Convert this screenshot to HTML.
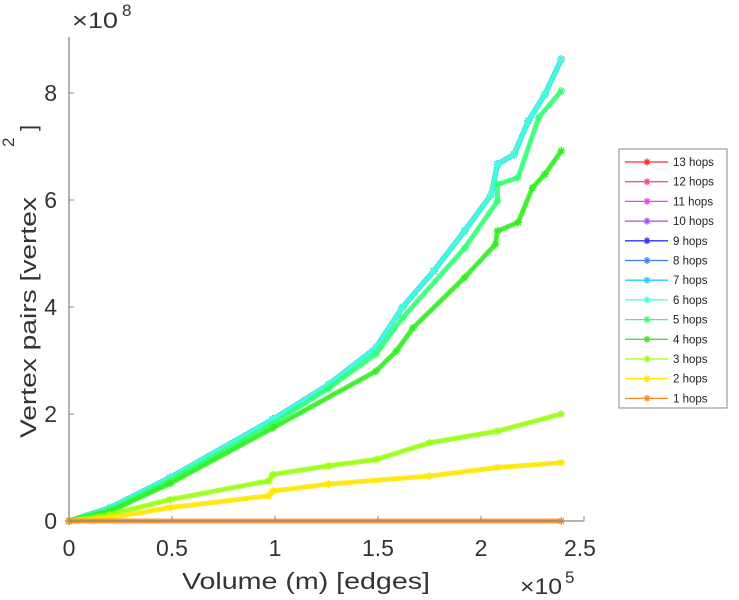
<!DOCTYPE html>
<html><head><meta charset="utf-8"><style>
html,body{margin:0;padding:0;background:#fff;}
svg{display:block;font-family:"Liberation Sans",sans-serif;}
</style></head><body>
<svg id="chart" width="739" height="600" viewBox="0 0 739 600">
<g id="plot"></g>
<g id="axes">
<line x1="69" y1="37" x2="69" y2="521" stroke="#888" stroke-width="1.3"/>
<line x1="69" y1="521" x2="584" y2="521" stroke="#888" stroke-width="1.3"/>
</g>
<text x="72" y="28" font-size="22" fill="#333" textLength="46" lengthAdjust="spacingAndGlyphs">×10</text>
<text x="122" y="16" font-size="17" fill="#333">8</text>
<text x="520" y="594" font-size="22" fill="#333" textLength="42" lengthAdjust="spacingAndGlyphs">×10</text>
<text x="565" y="583" font-size="17" fill="#333">5</text>
<text x="182" y="589" font-size="23" fill="#333" textLength="248" lengthAdjust="spacingAndGlyphs">Volume (m) [edges]</text>
<g transform="translate(36,438) rotate(-90)">
<text x="0" y="0" font-size="22" fill="#333" textLength="241" lengthAdjust="spacingAndGlyphs">Vertex pairs [vertex</text>
<text x="291" y="-22" font-size="17" fill="#333">2</text>
<text x="307" y="0" font-size="22" fill="#333">]</text>
</g>
<g id="legend">
<rect x="619" y="149" width="108" height="259" fill="#fff" stroke="#888" stroke-width="1"/>
</g>
</svg>
<script>
const xVals=[0,0.2,0.49,0.99,1.26,1.49,1.62,1.77,1.92,2.05,2.08,2.16,2.23,2.31,2.39];
const top6=[0,0.25,0.81,1.9,2.55,3.24,4.0,4.67,5.42,6.1,6.67,6.85,7.48,7.97,8.63];
const x5=[0,0.2,0.49,0.99,1.26,1.49,1.62,1.92,2.08,2.08,2.18,2.28,2.39];
const hops5=[0,0.22,0.76,1.82,2.48,3.12,3.8,5.1,5.98,6.29,6.42,7.54,8.04];
const x4=[0,0.2,0.49,0.99,1.49,1.59,1.67,1.92,2.07,2.08,2.18,2.25,2.31,2.39];
const hops4=[0,0.18,0.7,1.74,2.8,3.18,3.61,4.55,5.17,5.42,5.58,6.23,6.48,6.92];
const x3=[0,0.2,0.49,0.97,0.99,1.26,1.49,1.75,2.08,2.39];
const hops3=[0,0.12,0.4,0.75,0.87,1.03,1.15,1.46,1.68,2.0];
const x2=[0,0.2,0.49,0.97,0.99,1.26,1.75,2.08,2.39];
const hops2=[0,0.06,0.25,0.47,0.56,0.69,0.84,1.0,1.09];
const x1=[0,2.39];
const hops1=[0,0];
const xTicks=[0,0.5,1,1.5,2,2.5];
const xTickLabels=["0","0.5","1","1.5","2","2.5"];
const yTicks=[0,2,4,6,8];
const yTickLabels=["0","2","4","6","8"];
const seriesNames=["13 hops","12 hops","11 hops","10 hops","9 hops","8 hops","7 hops","6 hops","5 hops","4 hops","3 hops","2 hops","1 hops"];
const seriesColors=["#ff2a2a","#ff4c94","#ff33ff","#a64dff","#3333ff","#4080ff","#22ccff","#44ffdd","#33ff77","#33ee22","#99ff11","#ffe600","#ff8822"];

const NS="http://www.w3.org/2000/svg";
const X=v=>69+v*206;
const Y=v=>521-v*53.5;
const plot=document.getElementById('plot');
const axes=document.getElementById('axes');
const legend=document.getElementById('legend');
function mk(t,a,p){const e=document.createElementNS(NS,t);for(const k in a)e.setAttribute(k,a[k]);(p||plot).appendChild(e);return e;}
xTicks.forEach((t,i)=>{
  const l=mk('line',{x1:X(t),x2:X(t),y1:521,y2:516,stroke:'#888'},axes);
  
  
  const tx=mk('text',{x:X(t)-(i===5?4:0),y:556,'font-size':23,fill:'#333','text-anchor':'middle'},axes);
  tx.textContent=xTickLabels[i];
  
  
});
yTicks.forEach((t,i)=>{
  const l=mk('line',{x1:69,x2:74,y1:Y(t),y2:Y(t),stroke:'#888'},axes);
  
  
  const tx=mk('text',{x:57,y:Y(t)+8,'font-size':23,fill:'#333','text-anchor':'end'},axes);
  tx.textContent=yTickLabels[i];
  
  
});
const seriesX=[xVals,xVals,xVals,xVals,xVals,xVals,xVals,xVals,x5,x4,x3,x2,x1];
const seriesY=[top6,top6,top6,top6,top6,top6,top6,top6,hops5,hops4,hops3,hops2,hops1];
function star(g,cx,cy,c,r){
  const d=`M${cx-r},${cy}H${cx+r}M${cx},${cy-r}V${cy+r}M${cx-r*0.7},${cy-r*0.7}L${cx+r*0.7},${cy+r*0.7}M${cx-r*0.7},${cy+r*0.7}L${cx+r*0.7},${cy-r*0.7}`;
  mk('path',{d:d,stroke:c,'stroke-width':1.3,fill:'none'},g);
}
seriesNames.forEach((n,i)=>{
  const g=mk('g',{});
  
  
  const xs=seriesX[i],ys=seriesY[i],c=seriesColors[i];
  const pts=xs.map((x,k)=>X(x)+','+Y(ys[k])).join(' ');
  mk('polyline',{points:pts,fill:'none',stroke:c,'stroke-width':5,'stroke-linejoin':'round','stroke-opacity':0.85},g);
  mk('polyline',{points:pts,fill:'none',stroke:c,'stroke-width':1.2},g);
  xs.forEach((x,k)=>star(g,X(x),Y(ys[k]),c,4));
  const ly=162+i*19.7;
  const lg=mk('g',{},legend);
  
  
  mk('line',{x1:625,x2:668,y1:ly,y2:ly,stroke:c,'stroke-width':1.3},lg);
  star(lg,647,ly,c,3.5);
  const t=mk('text',{x:673,y:ly+4,'font-size':11.5,fill:'#222'},lg);
  t.textContent=n;
});
</script>
</body></html>
